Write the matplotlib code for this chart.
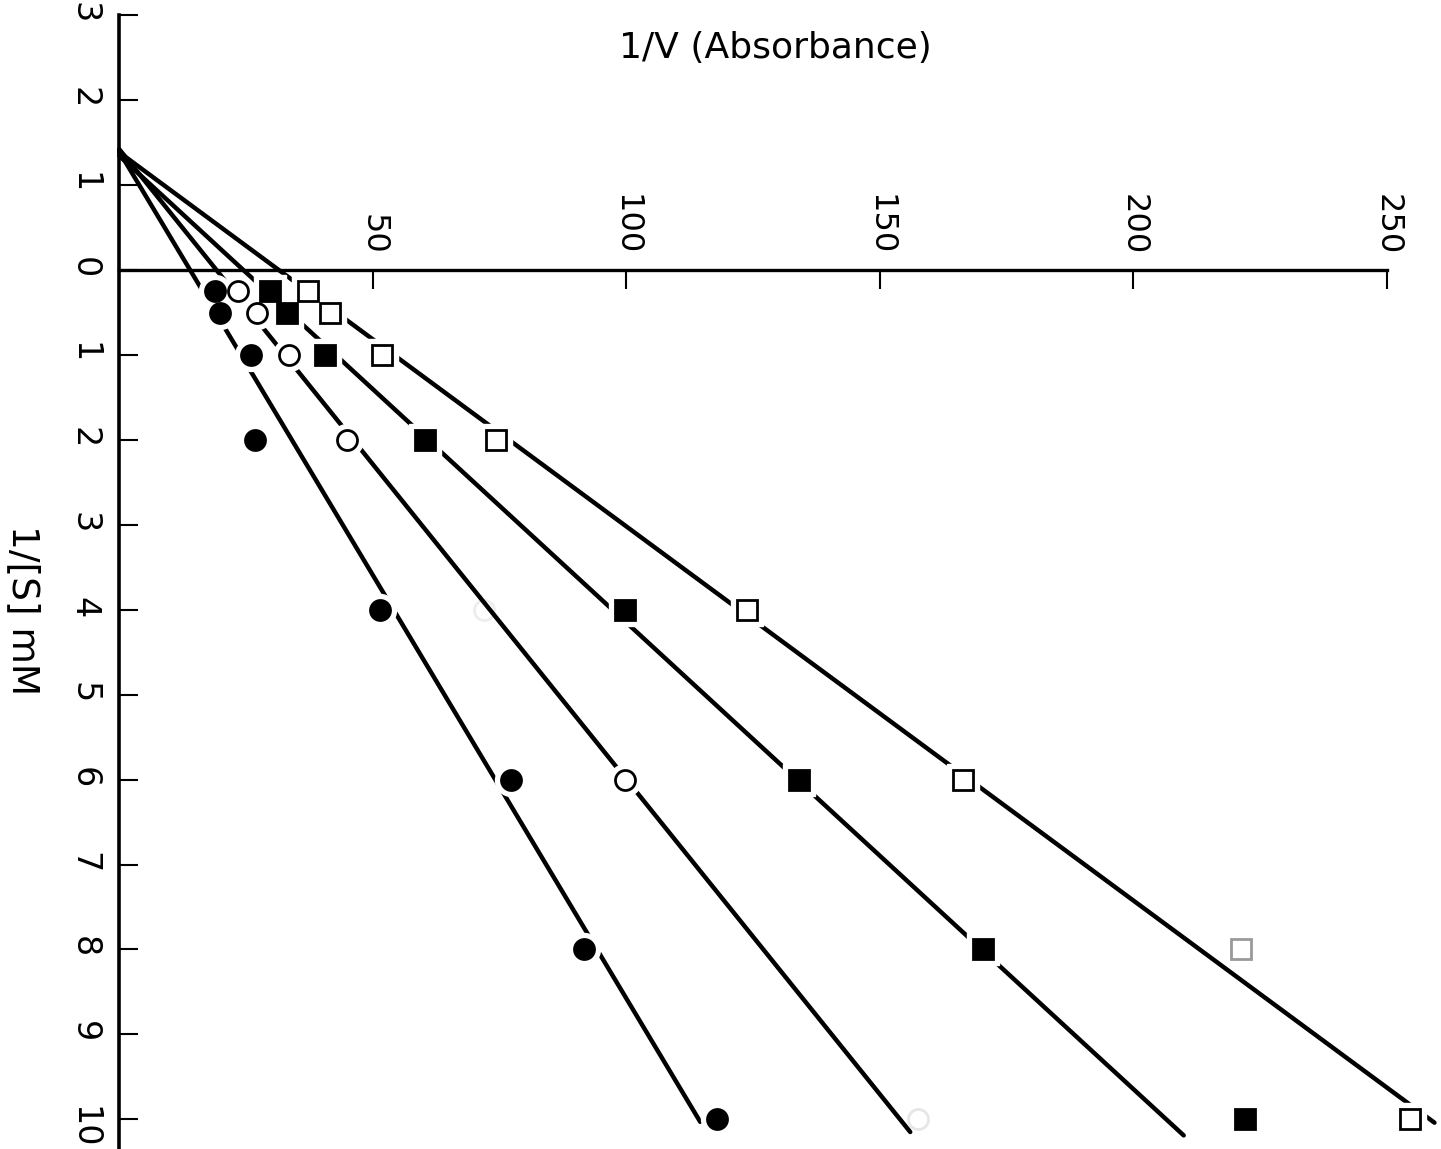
import numpy as np
import matplotlib.pyplot as plt

# 1/[S] (mM^-1) at which points were measured
inv_s = [0.25, 0.5, 1, 2, 4, 6, 8, 10]

# 1/V (absorbance), one list per series
v_filled_circle = [18.9, 19.9, 26.0, 26.8, 51.5, 77.3, 91.7, 118.0]
v_open_circle = [23.5, 27.2, 33.5, 45.0, 72.0, 99.8, None, 157.6]
v_filled_square = [29.8, 33.1, 40.6, 60.4, 99.8, 134.1, 170.4, 222.0]
v_open_square = [37.3, 41.6, 51.9, 74.4, 123.9, 166.5, 221.3, 254.6]

# points that are almost faded out in the print: (series, 1/[S]) -> grey level
faded = {("oc", 4): "0.93", ("oc", 10): "0.9", ("os", 8): "0.6"}

# fitted lines: (intercept on 1/V, slope, last 1/[S])
fit_filled_circle = (14.0, 10.03, 10.03)
fit_open_circle = (19.2, 13.48, 10.15)
fit_filled_square = (24.5, 18.2, 10.19)
fit_open_square = (31.5, 22.7, 10.04)

x_ticks = [50, 100, 150, 200, 250]
y_ticks = list(range(-3, 11))
y_labels = [str(abs(t)) for t in y_ticks]

fig = plt.figure(figsize=(14.41, 11.49), dpi=100)
ax = fig.add_axes([0, 0, 1, 1])
ax.set_xlim(-23.5, 260.7)
ax.set_ylim(10.35, -3.18)

lw = 3.2
for b, m, s_end in [fit_filled_circle, fit_open_circle, fit_filled_square, fit_open_square]:
    s0 = -b / m
    s = np.array([s0, s_end])
    ax.plot(m * s + b, s, color="black", lw=lw, solid_capstyle="round", zorder=2)

series = [
    ("fc", v_filled_circle, "o", "black"),
    ("oc", v_open_circle, "o", "white"),
    ("fs", v_filled_square, "s", "black"),
    ("os", v_open_square, "s", "white"),
]

for key, vals, mk, fc in series:
    xs = [v for s, v in zip(inv_s, vals) if v is not None and (key, s) not in faded]
    ys = [s for s, v in zip(inv_s, vals) if v is not None and (key, s) not in faded]
    # white halo that breaks the lines round each point
    ax.plot(xs, ys, ls="none", marker=mk, ms=23, mfc="white", mec="white", zorder=3)

for key, vals, mk, fc in series:
    for s, v in zip(inv_s, vals):
        if v is None:
            continue
        edge = faded.get((key, s), "black")
        ax.plot(v, s, ls="none", marker=mk, ms=14.4, mfc=fc, mec=edge, mew=2.0,
                zorder=4 if (key, s) not in faded else 1)

# axes drawn as crossing lines at the origin
for side in ["right", "bottom"]:
    ax.spines[side].set_visible(False)
ax.spines["left"].set_position(("data", 0))
ax.spines["left"].set_bounds(-3, 10.35)
ax.spines["left"].set_linewidth(2.6)
ax.spines["top"].set_position(("data", 0))
ax.spines["top"].set_bounds(0, 250)
ax.spines["top"].set_linewidth(2.4)

ax.xaxis.set_ticks_position("top")
ax.set_xticks(x_ticks)
ax.set_xticklabels([str(t) for t in x_ticks])
ax.tick_params(axis="x", direction="in", length=14, width=1.5, pad=11,
               labelsize=23, labelrotation=-90, labeltop=True, labelbottom=False)

ax.set_yticks(y_ticks)
ax.set_yticklabels(y_labels)
ax.tick_params(axis="y", direction="in", length=14, width=1.5, pad=13.5,
               labelsize=24, labelrotation=-90)

ax.text(129.5, -2.62, "1/V (Absorbance)", fontsize=26, ha="center", va="center")
ax.text(-19.0, 4.0, "1/[S] mM", fontsize=27, rotation=-90, ha="center", va="center")

fig.savefig("out.png", dpi=100)
